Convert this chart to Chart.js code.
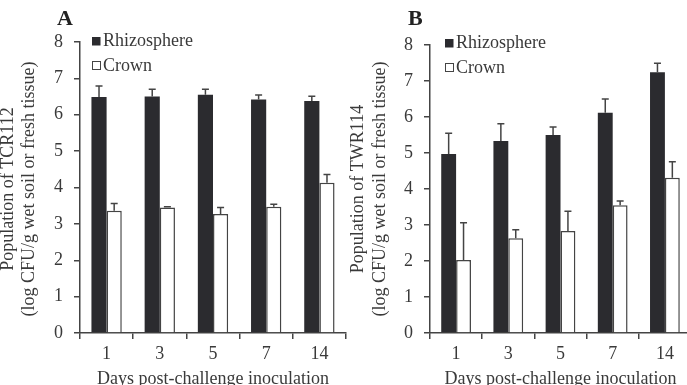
<!DOCTYPE html>
<html>
<head>
<meta charset="utf-8">
<script src="https://cdn.jsdelivr.net/npm/chart.js@4.4.0/dist/chart.umd.min.js"></script>
<style>
  html, body { margin: 0; padding: 0; background: #fff; width: 687px; height: 385px; overflow: hidden; }
  canvas { position: absolute; top: 0; }
</style>
</head>
<body>
<canvas id="chartA" width="350" height="385" style="left:0px"></canvas>
<canvas id="chartB" width="360" height="385" style="left:340px"></canvas>
<script>
// days post-challenge inoculation
const days = ['1', '3', '5', '7', '14'];
const yTicks = [0, 1, 2, 3, 4, 5, 6, 7, 8];

// panel A: TCR112
const rhizoA = [6.49, 6.50, 6.55, 6.42, 6.38];
const rhizoErrA = [0.30, 0.20, 0.15, 0.12, 0.13];
const crownA = [3.36, 3.45, 3.27, 3.47, 4.13];
const crownErrA = [0.20, 0.02, 0.18, 0.07, 0.23];

// panel B: TWR114
const rhizoB = [4.97, 5.33, 5.50, 6.12, 7.24];
const rhizoErrB = [0.58, 0.48, 0.22, 0.38, 0.25];
const crownB = [2.03, 2.63, 2.83, 3.55, 4.31];
const crownErrB = [1.03, 0.24, 0.55, 0.12, 0.45];

const FONT = '"Liberation Serif", "Times New Roman", serif';
const TXT = '#3a3a3a';
const AXIS = '#444';
const DARK = '#2b2b2f';

const errorBars = {
    id: 'errorBars',
    afterDatasetsDraw(chart, args, opts) {
        const ctx = chart.ctx;
        const yScale = chart.scales.y;
        ctx.save();
        ctx.strokeStyle = AXIS;
        ctx.lineWidth = 1.5;
        chart.data.datasets.forEach(function(ds, i) {
            const meta = chart.getDatasetMeta(i);
            meta.data.forEach(function(bar, j) {
                const top = yScale.getPixelForValue(ds.data[j] + ds.errors[j]);
                ctx.beginPath();
                ctx.moveTo(bar.x, bar.y);
                ctx.lineTo(bar.x, top);
                ctx.moveTo(bar.x - 3.5, top);
                ctx.lineTo(bar.x + 3.5, top);
                ctx.stroke();
            });
        });
        ctx.restore();
    }
};

const decorations = {
    id: 'decorations',
    afterDraw(chart, args, o) {
        const ctx = chart.ctx;
        ctx.save();
        // panel letter
        ctx.fillStyle = '#222';
        ctx.font = 'bold 22px ' + FONT;
        ctx.textBaseline = 'alphabetic';
        ctx.textAlign = 'left';
        ctx.fillText(o.letter, o.letterX, 25);

        // legend
        ctx.font = '18px ' + FONT;
        ctx.fillStyle = DARK;
        ctx.fillRect(o.legX, o.legY, 8.5, 8.5);
        ctx.strokeStyle = AXIS;
        ctx.lineWidth = 1;
        ctx.strokeRect(o.legX + 0.5, o.legY + 24.5, 8, 8);
        ctx.fillStyle = TXT;
        ctx.fillText('Rhizosphere', o.legX + 11, o.legY + 9);
        ctx.fillText('Crown', o.legX + 11, o.legY + 34);

        // y title, two lines
        const cy = 189;
        ctx.textAlign = 'center';
        o.yTitle.forEach(function(line, k) {
            ctx.save();
            ctx.translate(o.yTitleX[k], cy);
            ctx.rotate(-Math.PI / 2);
            ctx.fillText(line, 0, 0);
            ctx.restore();
        });

        // x title
        const area = chart.chartArea;
        ctx.fillText('Days post-challenge inoculation', (area.left + area.right) / 2, 384);
        ctx.restore();
    }
};

function makePanel(id, rhizo, rhizoErr, crown, crownErr, yWidth, padRight, top, deco) {
    const ctx = document.getElementById(id).getContext('2d');
    return new Chart(ctx, {
        type: 'bar',
        data: {
            labels: days,
            datasets: [{
                label: 'Rhizosphere',
                data: rhizo,
                errors: rhizoErr,
                backgroundColor: DARK,
                borderWidth: 0
            }, {
                label: 'Crown',
                data: crown,
                errors: crownErr,
                backgroundColor: '#ffffff',
                borderColor: AXIS,
                borderWidth: 1.5
            }]
        },
        options: {
            responsive: false,
            animation: false,
            devicePixelRatio: 1,
            layout: { padding: { left: 0, right: padRight, top: top, bottom: 0 } },
            datasets: { bar: { categoryPercentage: 0.57, barPercentage: 1.0 } },
            plugins: {
                legend: { display: false },
                tooltip: { enabled: false },
                decorations: deco
            },
            scales: {
                x: {
                    grid: { display: true, drawOnChartArea: false, offset: true, tickLength: 6, color: AXIS, lineWidth: 1.5 },
                    border: { color: AXIS, width: 1.5 },
                    ticks: { color: TXT, font: { family: FONT, size: 18 }, padding: 4 },
                    afterFit: function(s) { s.height = 52; }
                },
                y: {
                    min: 0,
                    max: 8,
                    afterBuildTicks: function(s) { s.ticks = yTicks.map(function(v) { return { value: v }; }); },
                    grid: { display: true, drawOnChartArea: false, tickLength: 6, color: AXIS, lineWidth: 1.5 },
                    border: { color: AXIS, width: 1.5 },
                    ticks: { color: TXT, font: { family: FONT, size: 18 }, padding: 11 },
                    afterFit: function(s) { s.width = yWidth; }
                }
            }
        },
        plugins: [errorBars, decorations]
    });
}

makePanel('chartA', rhizoA, rhizoErrA, crownA, crownErrA, 80, 4, 42, {
    letter: 'A', letterX: 57, legX: 92, legY: 37,
    yTitle: ['Population of TCR112', '(log CFU/g wet soil or fresh tissue)'], yTitleX: [13, 34]
});
makePanel('chartB', rhizoB, rhizoErrB, crownB, crownErrB, 90, 9, 45, {
    letter: 'B', letterX: 68, legX: 105, legY: 39,
    yTitle: ['Population of TWR114', '(log CFU/g wet soil or fresh tissue)'], yTitleX: [23, 45]
});
</script>
</body>
</html>
